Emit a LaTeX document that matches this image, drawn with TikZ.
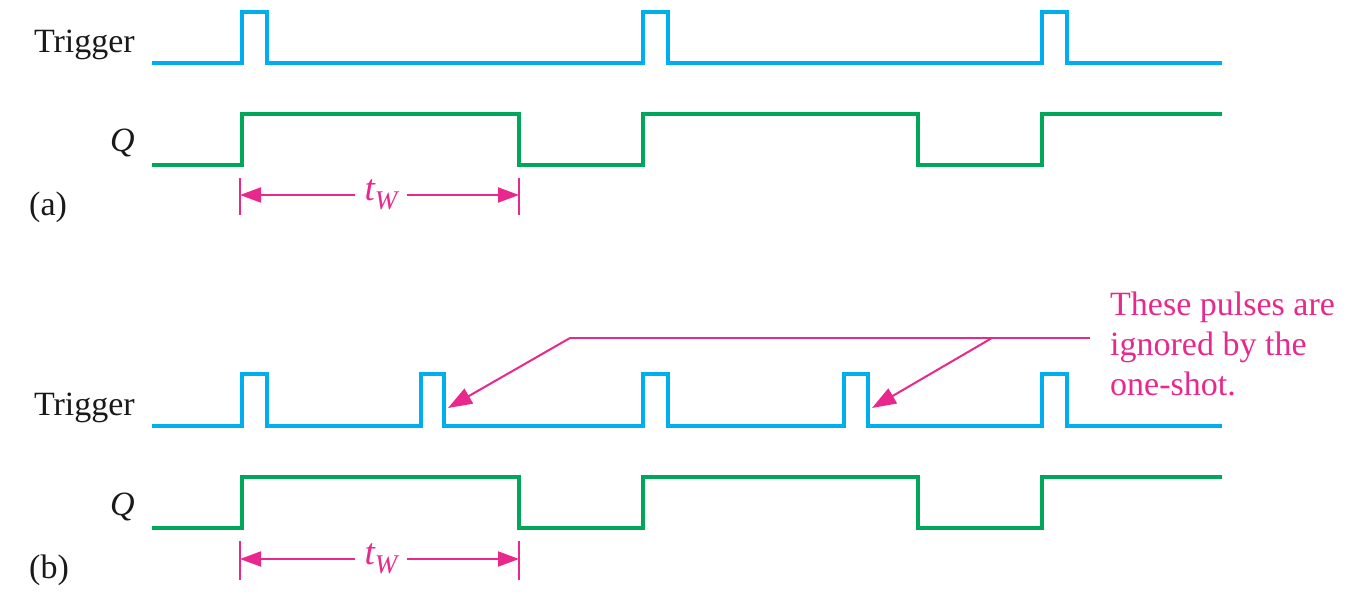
\documentclass[tikz,border=0pt]{standalone}
\usepackage{fontspec}
\setmainfont{Liberation Serif}
\usetikzlibrary{arrows.meta}
\definecolor{trigcyan}{RGB}{0,174,239}
\definecolor{qgreen}{RGB}{0,166,90}
\definecolor{annpink}{RGB}{232,40,140}
\begin{document}
\begin{tikzpicture}[x=1pt,y=-1pt,
  sig/.style={line width=4pt, line join=miter},
  trig/.style={sig, draw=trigcyan},
  qsig/.style={sig, draw=qgreen},
  lbl/.style={font=\fontsize{34}{40}\selectfont, inner sep=0pt, text=black!90},
  dim/.style={draw=annpink, line width=2pt},
  dimarrow/.style={dim, -{Triangle[length=21pt,width=15pt]}},
  annarrow/.style={dim, -{Triangle[length=24pt,width=17pt]}},
  twlabel/.style={inner xsep=9pt, inner ysep=0pt, text=annpink}]
\useasboundingbox (0,0) rectangle (1368,604);

% ---------- (a) ----------
\node[lbl, anchor=base east] (trigA) at (135,53) {Trigger};
\node[lbl, anchor=base east] (qA) at (135,152) {\itshape Q};
\node[lbl, anchor=base west] (labA) at (29,215) {(a)};

\draw[trig] (152,63) -- (242,63) -- (242,12) -- (267,12) -- (267,63)
  -- (643,63) -- (643,12) -- (668,12) -- (668,63)
  -- (1042,63) -- (1042,12) -- (1067,12) -- (1067,63) -- (1222,63);
\draw[qsig] (152,165) -- (242,165) -- (242,114) -- (519,114) -- (519,165)
  -- (643,165) -- (643,114) -- (918,114) -- (918,165)
  -- (1042,165) -- (1042,114) -- (1222,114);

\coordinate (ta1) at (240,195);
\coordinate (ta2) at (519,195);
\draw[dim] ([yshift=17pt]ta1) -- ([yshift=-20pt]ta1);
\draw[dim] ([yshift=17pt]ta2) -- ([yshift=-20pt]ta2);
\node[twlabel] (twa) at (381,195)
  {{\fontsize{37}{37}\selectfont\itshape t}\raisebox{-9pt}{\fontsize{27}{27}\selectfont\itshape W}};
\draw[dimarrow] (twa.west) -- (ta1);
\draw[dimarrow] (twa.east) -- (ta2);

% ---------- (b) ----------
\node[lbl, anchor=base east] (trigB) at (135,415) {Trigger};
\node[lbl, anchor=base east] (qB) at (135,515) {\itshape Q};
\node[lbl, anchor=base west] (labB) at (29,578) {(b)};

\draw[trig] (152,426) -- (242,426) -- (242,374) -- (267,374) -- (267,426)
  -- (421,426) -- (421,374) -- (444,374) -- (444,426)
  -- (643,426) -- (643,374) -- (668,374) -- (668,426)
  -- (844,426) -- (844,374) -- (868,374) -- (868,426)
  -- (1042,426) -- (1042,374) -- (1067,374) -- (1067,426) -- (1222,426);
\draw[qsig] (152,528) -- (242,528) -- (242,477) -- (519,477) -- (519,528)
  -- (643,528) -- (643,477) -- (918,477) -- (918,528)
  -- (1042,528) -- (1042,477) -- (1222,477);

\coordinate (tb1) at (240,559);
\coordinate (tb2) at (519,559);
\draw[dim] ([yshift=18pt]tb1) -- ([yshift=-21pt]tb1);
\draw[dim] ([yshift=18pt]tb2) -- ([yshift=-21pt]tb2);
\node[twlabel] (twb) at (381,559)
  {{\fontsize{37}{37}\selectfont\itshape t}\raisebox{-9pt}{\fontsize{27}{27}\selectfont\itshape W}};
\draw[dimarrow] (twb.west) -- (tb1);
\draw[dimarrow] (twb.east) -- (tb2);

% ---------- annotation ----------
\node[font=\fontsize{34}{40}\selectfont, text=annpink, align=left,
      anchor=north west, inner sep=0pt] (note) at (1110,292)
  {These pulses are\\ignored by the\\one-shot.};
\coordinate (annL) at (570,338);
\coordinate (annM) at (992,338);
\coordinate (annR) at (1090,338);
\coordinate (tipA) at (448,408);
\coordinate (tipB) at (872,408);
\draw[dim] (annR) -- (annL);
\draw[annarrow] (annL) -- (tipA);
\draw[annarrow] (annM) -- (tipB);
\end{tikzpicture}
\end{document}
